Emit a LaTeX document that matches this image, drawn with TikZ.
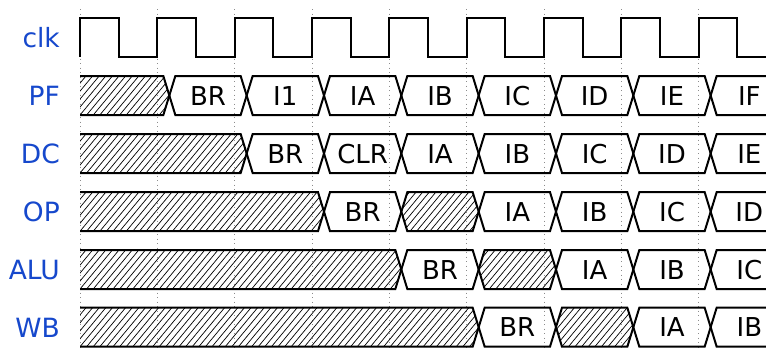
\documentclass[tikz,border=0pt]{standalone}
\usepackage{fontspec}
\setmainfont{DejaVu Sans}
\definecolor{lblblue}{RGB}{22,72,204}
% #1 top y, #2 start index, #3 end index, #4 node name, #5 text
\newcommand\segbox[5]{%
  \pgfmathsetmacro\xa{92+77.333*#2}%
  \pgfmathsetmacro\xb{92+77.333*#3}%
  \draw[wave] (\xa,#1+19.5) -- (\xa+6,#1) -- (\xb-6,#1) -- (\xb,#1+19.5) -- (\xb-6,#1+39) -- (\xa+6,#1+39) -- cycle;
  \node[btxt] (#4) at ({(\xa+\xb)/2},{#1+29}) {#5};
}
% hatch lines inside a clipped region from x=#2 to x=#3, top #1
\newcommand\hatchfill[3]{%
  \pgfmathsetmacro\hs{6.6*floor((#2-40)/6.6)}%
  \pgfmathsetmacro\hsn{\hs+6.6}%
  \foreach \xx in {\hs,\hsn,...,#3} {
    \draw[hatchline] (\xx,#1+40) -- (\xx+34,#1-1);
  }%
}
% hatched segment in the middle: #1 top, #2 start, #3 end
\newcommand\seghatch[3]{%
  \pgfmathsetmacro\xa{92+77.333*#2}%
  \pgfmathsetmacro\xb{92+77.333*#3}%
  \begin{scope}
    \clip (\xa,#1+19.5) -- (\xa+6,#1) -- (\xb-6,#1) -- (\xb,#1+19.5) -- (\xb-6,#1+39) -- (\xa+6,#1+39) -- cycle;
    \hatchfill{#1}{\xa}{\xb}
  \end{scope}
  \draw[wave] (\xa,#1+19.5) -- (\xa+6,#1) -- (\xb-6,#1) -- (\xb,#1+19.5) -- (\xb-6,#1+39) -- (\xa+6,#1+39) -- cycle;
}
% first hatched segment from the left edge: #1 top, #2 end
\newcommand\seghatchfirst[2]{%
  \pgfmathsetmacro\xb{92+77.333*#2}%
  \begin{scope}
    \clip (80,#1) -- (\xb-6,#1) -- (\xb,#1+19.5) -- (\xb-6,#1+39) -- (80,#1+39) -- cycle;
    \hatchfill{#1}{80}{\xb}
  \end{scope}
  \draw[wave] (80,#1) -- (\xb-6,#1) -- (\xb,#1+19.5) -- (\xb-6,#1+39) -- (80,#1+39);
}
\begin{document}
\begin{tikzpicture}[x=1pt,y=-1pt,
  wave/.style={line width=2pt, line join=miter},
  gridline/.style={black!45, line width=0.8pt, dash pattern=on 1pt off 3.5pt},
  hatchline/.style={line width=0.7pt},
  lbl/.style={text=lblblue, anchor=base east, inner sep=0pt, font=\fontsize{26.5}{31}\selectfont},
  btxt/.style={anchor=base, inner sep=0pt, font=\fontsize{26}{31}\selectfont}]
\useasboundingbox (0,0) rectangle (766,348);
\clip (0,0) rectangle (766,348);
% grid lines at the rising clock edges
\foreach \k in {0,...,9} {
  \draw[gridline] ({80+77.333*\k},9) -- ({80+77.333*\k},348);
}
% labels
\node[lbl] (lclk) at (60,47.5) {clk};
\node[lbl] (lpf)  at (60,105.5) {PF};
\node[lbl] (ldc)  at (60,163.5) {DC};
\node[lbl] (lop)  at (60,221.5) {OP};
\node[lbl] (lalu) at (60,279.2) {ALU};
\node[lbl] (lwb)  at (60,337) {WB};
% clock
\draw[wave] (80,56.7) -- (80,17.7)
  \foreach \k in {0,...,8} {
    -- ({80+77.333*\k+38.667},17.7) -- ({80+77.333*\k+38.667},56.7)
    -- ({80+77.333*(\k+1)},56.7) -- ({80+77.333*(\k+1)},17.7)
  } -- (775,17.7);
% PF
\seghatchfirst{76}{1}
\segbox{76}{1}{2}{pf1}{BR}
\segbox{76}{2}{3}{pf2}{I1}
\segbox{76}{3}{4}{pf3}{IA}
\segbox{76}{4}{5}{pf4}{IB}
\segbox{76}{5}{6}{pf5}{IC}
\segbox{76}{6}{7}{pf6}{ID}
\segbox{76}{7}{8}{pf7}{IE}
\segbox{76}{8}{9}{pf8}{IF}
% DC
\seghatchfirst{134}{2}
\segbox{134}{2}{3}{dc1}{BR}
\segbox{134}{3}{4}{dc2}{CLR}
\segbox{134}{4}{5}{dc3}{IA}
\segbox{134}{5}{6}{dc4}{IB}
\segbox{134}{6}{7}{dc5}{IC}
\segbox{134}{7}{8}{dc6}{ID}
\segbox{134}{8}{9}{dc7}{IE}
% OP
\seghatchfirst{192.2}{3}
\segbox{192.2}{3}{4}{op1}{BR}
\seghatch{192.2}{4}{5}
\segbox{192.2}{5}{6}{op2}{IA}
\segbox{192.2}{6}{7}{op3}{IB}
\segbox{192.2}{7}{8}{op4}{IC}
\segbox{192.2}{8}{9}{op5}{ID}
% ALU
\seghatchfirst{250}{4}
\segbox{250}{4}{5}{alu1}{BR}
\seghatch{250}{5}{6}
\segbox{250}{6}{7}{alu2}{IA}
\segbox{250}{7}{8}{alu3}{IB}
\segbox{250}{8}{9}{alu4}{IC}
% WB
\seghatchfirst{307.7}{5}
\segbox{307.7}{5}{6}{wb1}{BR}
\seghatch{307.7}{6}{7}
\segbox{307.7}{7}{8}{wb2}{IA}
\segbox{307.7}{8}{9}{wb3}{IB}
\end{tikzpicture}
\end{document}
